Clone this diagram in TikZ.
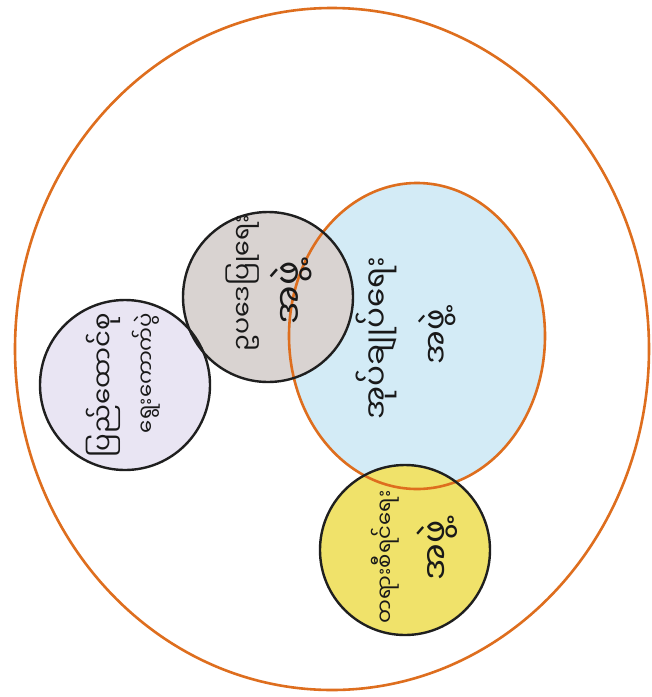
\documentclass[tikz,border=0pt]{standalone}
\usepackage{graphicx}
\usepackage{fontspec}
\newfontfamily\myan[Script=Myanmar]{Noto Sans Myanmar UI}
\definecolor{orng}{HTML}{DE6E1E}
\definecolor{bluefill}{HTML}{D3EBF6}
\definecolor{grayfill}{HTML}{D9D3D1}
\definecolor{purplefill}{HTML}{E9E5F3}
\definecolor{yellowfill}{HTML}{F0E26A}
\newcommand{\fitlen}[2]{\resizebox{#1pt}{!}{\myan\fontsize{30}{34}\selectfont #2}}
\begin{document}
\begin{tikzpicture}[x=1pt,y=-1pt,
  orangeline/.style={draw=orng, line width=2.6pt},
  blackline/.style={draw=black!88, line width=2.4pt},
  lbl/.style={rotate=90, inner sep=0pt, text=black!90}]
\useasboundingbox (0,0) rectangle (652,697);
\fill[white] (0,0) rectangle (652,697);
% outer circle
\draw[orangeline] (332,349) ellipse [x radius=317, y radius=341];
% inner blue circle fill
\fill[bluefill] (417,336) ellipse [x radius=128, y radius=153];
% small circles fills
\fill[grayfill] (268,297) circle [radius=85];
\fill[purplefill] (125,385) circle [radius=85];
\fill[yellowfill] (405,550) circle [radius=85];
% inner orange outline on top
\draw[orangeline] (417,336) ellipse [x radius=128, y radius=153];
% black outlines
\draw[blackline] (268,297) circle [radius=85];
\draw[blackline] (125,385) circle [radius=85];
\draw[blackline] (405,550) circle [radius=85];
% labels (text runs bottom to top)
\node[lbl] (blueA) at (376,338) {\fitlen{163}{အုပ်ချုပ်ရေး}};
\node[lbl] (blueB) at (437,337) {\fitlen{55}{အဖွဲ့}};
\node[lbl] (grayA) at (243,283) {\fitlen{137}{ဥပဒေပြုရေး}};
\node[lbl] (grayB) at (291,293) {\fitlen{63}{အဖွဲ့}};
\node[lbl] (purpleA) at (103,385) {\fitlen{144}{ပြည်ထောင်စု}};
\node[lbl] (purpleB) at (146,373) {\fitlen{120}{ရွေးကောက်ပွဲ}};
\node[lbl] (yellowA) at (385,557) {\fitlen{133}{တရားစီရင်ရေး}};
\node[lbl] (yellowB) at (437,550) {\fitlen{60}{အဖွဲ့}};
\end{tikzpicture}
\end{document}
